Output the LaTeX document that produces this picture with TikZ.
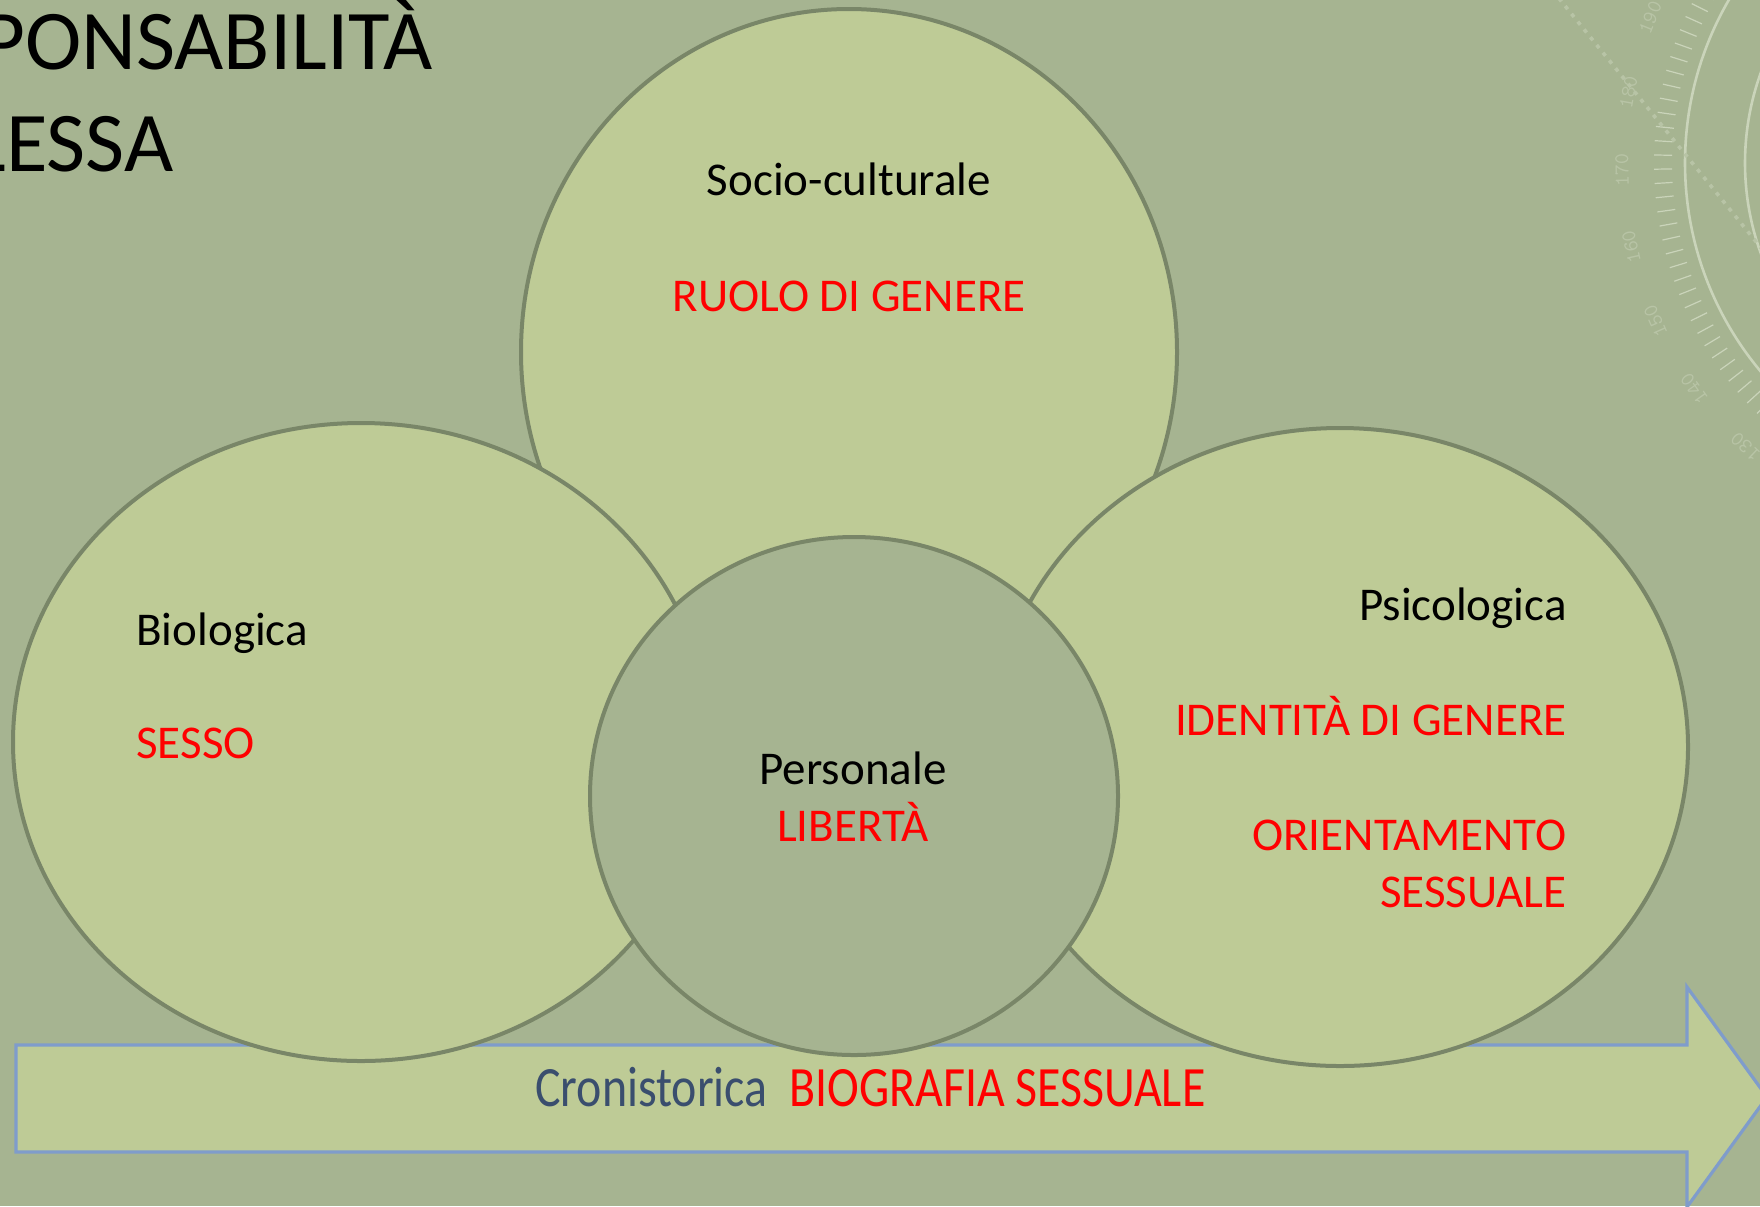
\documentclass[tikz,border=0pt]{standalone}
\usepackage{fontspec}
\setmainfont{Carlito}
\usetikzlibrary{shapes.geometric,calc}
\definecolor{bg}{HTML}{A6B491}
\definecolor{blobfill}{HTML}{BECB96}
\definecolor{rim}{HTML}{798668}
\definecolor{arrowrim}{HTML}{7F9CCB}
\definecolor{txtred}{HTML}{FF0000}
\definecolor{txtblue}{HTML}{3A4E6E}
\definecolor{deco}{HTML}{CAD4BA}
\definecolor{decofaint}{HTML}{B8C4A6}
\begin{document}
\begin{tikzpicture}[x=0.5pt,y=-0.5pt,
  blob/.style={ellipse, draw=rim, line width=2pt, fill=blobfill, inner sep=0pt},
  lbl/.style={inner sep=0pt, font=\fontsize{23.5}{28}\selectfont},
  redlbl/.style={lbl, text=txtred},
  titletext/.style={inner sep=0pt, anchor=base east, font=\fontsize{42.5}{50}\selectfont},
  decoline/.style={draw=deco, line width=1.3pt},
  decotick/.style={draw=deco, line width=0.6pt},
  deconum/.style={inner sep=0pt, text=decofaint, font=\ttfamily\fontsize{10.5}{11}\selectfont}]
\useasboundingbox (0,0) rectangle (1760,1206);
\fill[bg] (0,0) rectangle (1760,1206);

% decoration (top right)
\coordinate (dc) at (2010,163);
\draw[decoline] (dc) circle [radius=162.5pt];
\draw[decoline] (dc) circle [radius=132.5pt];
\foreach \v in {110,112,...,220} {
  \pgfmathsetmacro\th{181-(\v-170)*1.15}
  \draw[decotick] ($(dc)+(\th:169pt)$) -- ($(dc)+(\th:178pt)$);
}
\foreach \v in {130,140,...,190} {
  \pgfmathsetmacro\th{181-(\v-170)*1.15}
  \pgfmathsetmacro\rot{\th-90}
  \node[deconum, rotate=\rot] at ($(dc)+(\th:194pt)$) {\v};
}
\coordinate (d1) at (1540,-25);
\coordinate (d2) at (1800,296);
\draw[draw=decofaint, line width=1.8pt, dash pattern=on 2pt off 3pt] (d1) -- (d2);

% title (cut off at left)
\node[titletext] (t1) at (433,69) {PONSABILITÀ};
\node[titletext] (t2) at (174,171) {LESSA};

% arrow
\coordinate (a1) at (16,1045);
\coordinate (a2) at (1687,1045);
\coordinate (a3) at (1687,987);
\coordinate (tip) at (1767,1097);
\coordinate (a4) at (1687,1207);
\coordinate (a5) at (1687,1152);
\coordinate (a6) at (16,1152);
\draw[arrowrim, line width=1.6pt, fill=blobfill, line join=miter]
  (a1) -- (a2) -- (a3) -- (tip) -- (a4) -- (a5) -- (a6) -- cycle;
\node[anchor=base west, inner sep=0pt] (chron) at (535,1106)
  {\scalebox{0.84}[1]{\fontsize{28.5}{30}\selectfont\color{txtblue}Cronistorica\ \ \color{txtred}BIOGRAFIA SESSUALE}};

% circles
\node[blob, minimum width=328pt, minimum height=343pt] (top) at (849,352) {};
\node[blob, minimum width=348pt, minimum height=319pt] (left) at (361,742) {};
\node[blob, minimum width=348pt, minimum height=319pt] (right) at (1340,747) {};
\node[blob, fill=bg, minimum width=264pt, minimum height=259pt] (center) at (854,796) {};

% texts
\node[lbl, anchor=base] (socio) at (849,195) {Socio-culturale};
\node[redlbl, anchor=base] (ruolo) at (849,311) {RUOLO DI GENERE};
\node[lbl, anchor=base west] (bio) at (136,645) {Biologica};
\node[redlbl, anchor=base west] (sesso) at (136,758) {SESSO};
\node[lbl, anchor=base] (pers) at (853,784) {Personale};
\node[redlbl, anchor=base] (lib) at (853,841) {LIBERTÀ};
\node[lbl, anchor=base east] (psi) at (1567,620) {Psicologica};
\node[redlbl, anchor=base east] (ident) at (1567,735) {IDENTITÀ DI GENERE};
\node[redlbl, anchor=base east] (orient) at (1567,850) {ORIENTAMENTO};
\node[redlbl, anchor=base east] (sessu) at (1567,907) {SESSUALE};
\end{tikzpicture}
\end{document}
